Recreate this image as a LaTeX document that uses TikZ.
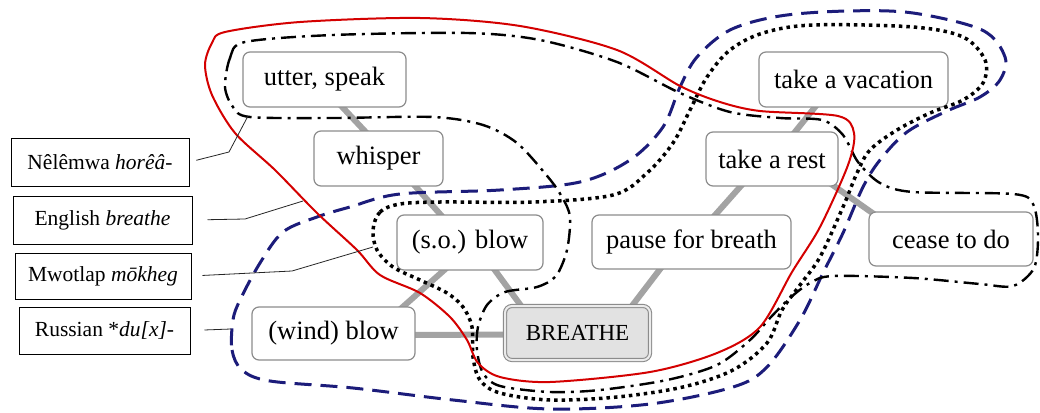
\documentclass[tikz,border=0pt]{standalone}
\usepackage{fontspec}
\setmainfont{Liberation Serif}
\usetikzlibrary{calc,backgrounds}
\definecolor{edgegray}{HTML}{A3A3A3}
\definecolor{boxgray}{HTML}{8C8C8C}
\definecolor{navyline}{HTML}{1C1C7A}
\definecolor{redline}{HTML}{D40000}
\definecolor{breathefill}{HTML}{E2E2E2}
\begin{document}
\begin{tikzpicture}[x=1pt,y=-1pt,
  concept/.style={draw=boxgray, line width=1.2pt, rounded corners=7pt, fill=white,
    font=\fontsize{26.5}{30}\selectfont, inner sep=0pt, minimum height=55pt},
  core/.style={draw=boxgray, line width=1.1pt, double=white!92!black, double distance=2pt,
    rounded corners=7pt, fill=breathefill, font=\fontsize{23}{27}\selectfont, inner sep=0pt},
  langbox/.style={draw=black, line width=1pt, fill=white, inner sep=0pt,
    font=\fontsize{21.5}{26}\selectfont, minimum height=48pt},
  link/.style={draw=edgegray, line width=6pt},
  leader/.style={draw=black!85, line width=0.8pt},
  redcurve/.style={draw=redline, line width=2pt},
  dashdotcurve/.style={draw=black, line width=2.4pt, dash pattern=on 15pt off 6pt on 3pt off 6pt},
  dottedcurve/.style={draw=black, line width=3.5pt, dash pattern=on 3.5pt off 4pt},
  dashedcurve/.style={draw=navyline, line width=3pt, dash pattern=on 17pt off 9pt}]
\useasboundingbox (0,0) rectangle (1040,412);

% concept nodes
\node[concept, minimum width=163pt] (utter) at (324.5,79.5) {utter, speak};
\node[concept, minimum width=129pt] (whisper) at (378.5,158.5) {whisper};
\node[concept, minimum width=146pt] (sob) at (470,242.5) {(s.o.) blow};
\node[concept, minimum width=199pt, minimum height=54pt] (pause) at (691.5,242) {pause for breath};
\node[concept, minimum width=189pt] (vac) at (853.5,79.5) {take a vacation};
\node[concept, minimum width=132pt, minimum height=54pt] (rest) at (772,159) {take a rest};
\node[concept, minimum width=164pt, minimum height=54pt] (cease) at (951,239) {cease to do};
\node[concept, minimum width=163pt, minimum height=53pt] (wind) at (333.5,333.5) {(wind) blow};
\node[core, minimum width=145pt, minimum height=54pt] (breathe) at (577.5,333) {BREATHE};

% links
\begin{scope}[on background layer]
\fill[white] (0,0) rectangle (1040,412);
\draw[link] ($(utter.south)+(15.5,-3)$) -- ($(whisper.north)+(-11.5,3)$);
\draw[link] ($(whisper.south)+(34.5,-3)$) -- ($(sob.north)+(-27,3)$);
\draw[link] ($(sob.south)+(-23,-3)$) -- ($(wind.north)+(66.5,3)$);
\draw[link] ($(sob.south)+(23,-3)$) -- ($(breathe.north)+(-54.5,3)$);
\draw[link] ($(wind.east)+(-3,1.5)$) -- ($(breathe.west)+(3,1.5)$);
\draw[link] ($(pause.south)+(-29.5,-3)$) -- ($(breathe.north)+(52.5,3)$);
\draw[link] ($(rest.south)+(-29,-3)$) -- ($(pause.north)+(21.5,3)$);
\draw[link] ($(vac.south)+(-36.5,-3)$) -- ($(rest.north)+(21,3)$);
\draw[link] ($(rest.south east)+(-8,-3)$) -- ($(cease.north west)+(6,3)$);
\end{scope}

% Russian (dashed navy)
\draw[dashedcurve] plot[smooth cycle, tension=0.55] coordinates {
 (233,320) (232,350) (242,370) (270,381) (353,388) (453,400) (550,409) (650,404)
 (733,387) (767,367) (800,320) (823,273) (843,233) (863,187) (880,160) (907,132)
 (947,111) (980,97) (1000,80) (1005,57) (982,30) (913,13) (847,11) (780,16)
 (730,30) (697,57) (680,87) (663,127) (630,160) (580,182) (500,190) (400,194)
 (350,207) (317,217) (283,232) (260,263) (240,300)};

% Mwotlap (dotted)
\draw[dottedcurve] plot[smooth cycle, tension=0.55] coordinates {
 (373,230) (380,212) (400,204) (440,202) (533,202) (613,195) (647,173) (673,143)
 (690,110) (707,77) (730,50) (763,33) (813,25) (913,27) (963,37) (985,60)
 (983,83) (963,100) (930,113) (897,130) (870,150) (857,173) (843,207) (820,257)
 (800,285) (782,310) (767,343) (733,370) (683,387) (617,397) (550,400) (500,393)
 (480,380) (473,357) (472,327) (463,307) (447,293) (420,280) (393,267) (377,250)};

% Nelemwa (dash-dot)
\draw[dashdotcurve] plot[smooth cycle, tension=0.5] coordinates {
 (225,87) (230,58) (245,42) (333,35) (467,33) (540,40) (617,62) (680,93)
 (730,112) (780,118) (822,120) (843,135) (858,162) (880,183) (913,192) (1013,194)
 (1033,204) (1038,235) (1034,268) (1013,286) (980,284) (913,278) (833,276) (810,283)
 (790,298) (770,318) (750,340) (717,365) (667,380) (600,390) (550,392) (500,386)
 (483,373) (477,350) (478,327) (487,305) (505,292) (537,287) (556,276) (567,250)
 (570,217) (562,197) (548,177) (517,143) (483,125) (433,117) (333,118) (250,117)
 (233,107)};

% English (red)
\draw[redcurve] plot[smooth cycle, tension=0.5] coordinates {
 (225,32) (300,22) (420,18) (520,26) (617,50) (680,86) (720,102) (760,111)
 (838,116) (854,133) (848,165) (820,227) (792,272) (760,327) (717,353) (650,372)
 (550,382) (500,377) (478,363) (467,340) (450,317) (420,293) (380,275) (357,250)
 (317,213) (275,170) (235,133) (212,95) (205,65) (212,43)};

% language labels
\node[langbox, minimum width=178pt] (nel) at (100,162) {Nêlêmwa \textit{horêâ-}};
\node[langbox, minimum width=179pt] (eng) at (102.5,220) {English \textit{breathe}};
\node[langbox, minimum width=176pt, minimum height=46pt] (mwo) at (103,276) {Mwotlap \textit{mōkheg}};
\node[langbox, minimum width=171pt, minimum height=47pt] (rus) at (104.5,330.5) {Russian *\textit{du[x]-}};

\coordinate (nelend) at (248,116);
\coordinate (engend) at (303,201);
\coordinate (mwoend) at (373,247);
\coordinate (rusend) at (231,329);
\draw[leader, shorten <=7pt] (nel.east) -- (229,152) -- (nelend);
\draw[leader, shorten <=15pt] (eng.east) -- (245,219) -- (engend);
\draw[leader, shorten <=11pt] (mwo.east) -- (292,271) -- (mwoend);
\draw[leader, shorten <=14pt] (rus.east) -- (rusend);
\end{tikzpicture}
\end{document}
